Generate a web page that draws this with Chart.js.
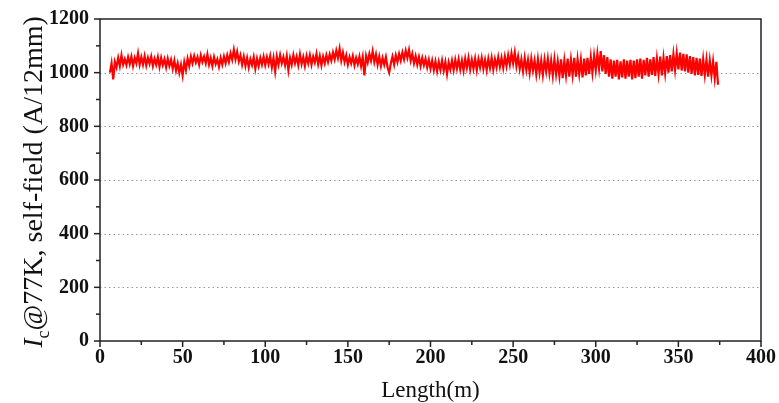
<!DOCTYPE html>
<html>
<head>
<meta charset="utf-8">
<script src="https://cdn.jsdelivr.net/npm/chart.js@4"></script>
<style>
  html, body { margin: 0; padding: 0; background: #fff; }
  #wrap { width: 779px; height: 403px; }
</style>
</head>
<body>
<div id="wrap"><canvas id="myChart" width="779" height="403"></canvas></div>
<script>
// Ic along the tape, one reading per metre starting at 6 m
const lengthStart = 6
const icValues = [
  1000, 1035, 975, 1040, 1020, 1055, 1025, 1065, 1030, 1050,
  1028, 1058, 1032, 1060, 1025, 1055, 1035, 1072, 1030, 1058,
  1030, 1062, 1027, 1055, 1033, 1060, 1025, 1052, 1030, 1058,
  1022, 1055, 1028, 1050, 1020, 1052, 1025, 1048, 1015, 1045,
  1008, 1035, 1000, 1030, 990, 1040, 1010, 1052, 1025, 1060,
  1035, 1062, 1038, 1058, 1030, 1065, 1040, 1060, 1035, 1068,
  1030, 1055, 1025, 1058, 1032, 1050, 1022, 1055, 1030, 1060,
  1035, 1065, 1040, 1072, 1048, 1085, 1050, 1078, 1042, 1065,
  1030, 1060, 1025, 1055, 1020, 1050, 1028, 1058, 1015, 1052,
  1025, 1055, 1030, 1060, 1028, 1058, 1032, 1062, 1020, 1055,
  1005, 1060, 1030, 1065, 1035, 1058, 1028, 1062, 1010, 1055,
  1030, 1065, 1035, 1060, 1028, 1068, 1032, 1058, 1025, 1062,
  1035, 1065, 1030, 1060, 1038, 1070, 1032, 1062, 1028, 1060,
  1035, 1065, 1040, 1068, 1045, 1075, 1050, 1082, 1055, 1090,
  1045, 1075, 1040, 1065, 1030, 1058, 1035, 1062, 1028, 1055,
  1032, 1060, 1025, 1058, 990, 1062, 1038, 1070, 1045, 1080,
  1040, 1068, 1030, 1060, 1025, 1055, 1030, 1058, 1020, 1000,
  1035, 1060, 1030, 1065, 1040, 1070, 1045, 1075, 1050, 1082,
  1055, 1085, 1045, 1070, 1035, 1062, 1030, 1058, 1025, 1055,
  1028, 1052, 1020, 1048, 1015, 1045, 1010, 1042, 1005, 1040,
  1010, 1045, 1008, 1040, 995, 1038, 1012, 1045, 1010, 1048,
  1015, 1050, 1012, 1045, 1008, 1052, 1018, 1055, 1012, 1048,
  1015, 1052, 1010, 1050, 1020, 1055, 1015, 1048, 1010, 1052,
  1018, 1055, 1012, 1050, 1020, 1058, 1022, 1055, 1018, 1060,
  1025, 1065, 1030, 1072, 1035, 1075, 1025, 1060, 1015, 1050,
  1005, 1055, 1010, 1048, 1000, 1052, 1008, 1045, 995, 1050,
  1000, 1045, 992, 1048, 1005, 1052, 998, 1045, 990, 1050,
  995, 1042, 988, 1050, 980, 1045, 990, 1052, 985, 1048,
  992, 1055, 985, 1050, 995, 1048, 982, 1052, 990, 1055,
  995, 1058, 1000, 1062, 1010, 1070, 1015, 1080, 1005, 1065,
  995, 1058, 985, 1050, 978, 1045, 985, 1048, 975, 1042,
  982, 1050, 978, 1045, 985, 1048, 975, 1045, 980, 1050,
  985, 1052, 978, 1048, 990, 1055, 985, 1050, 992, 1058,
  988, 1052, 995, 1060, 990, 1055, 998, 1062, 1000, 1065,
  1005, 1068, 1010, 1072, 1012, 1075, 1008, 1070, 1005, 1068,
  1000, 1062, 995, 1058, 990, 1055, 992, 1052, 988, 1050,
  992, 1048, 985, 1045, 990, 1042, 980, 1040, 955
]

const xTicks = [0, 50, 100, 150, 200, 250, 300, 350, 400]
const yTicks = [0, 200, 400, 600, 800, 1000, 1200]
const gridValues = [200, 400, 600, 800, 1000]

const points = icValues.map((v, i) => ({ x: lengthStart + i, y: v }))

const serif = '"Liberation Serif", "Times New Roman", serif'
const tickFont = 'bold 20px ' + serif

// frame, ticks, dotted grid and axis titles drawn by hand
const framePlugin = {
  id: 'frame',
  beforeDatasetsDraw(chart) {
    const { ctx, chartArea: a, scales: { y } } = chart
    ctx.save()
    ctx.strokeStyle = '#8f94b8'
    ctx.lineWidth = 1
    ctx.setLineDash([1.5, 3])
    gridValues.forEach(v => {
      const py = Math.round(y.getPixelForValue(v)) + 0.5
      ctx.beginPath()
      ctx.moveTo(a.left, py)
      ctx.lineTo(a.right, py)
      ctx.stroke()
    })
    ctx.restore()
  },
  afterDraw(chart) {
    const { ctx, chartArea: a, scales: { x, y } } = chart
    ctx.save()
    ctx.strokeStyle = '#222'
    ctx.lineWidth = 1.5
    ctx.strokeRect(a.left, a.top, a.right - a.left, a.bottom - a.top)

    for (let v = 0; v <= 400; v += 25) {
      const px = x.getPixelForValue(v)
      const len = v % 50 === 0 ? 6 : 4
      ctx.beginPath()
      ctx.moveTo(px, a.bottom)
      ctx.lineTo(px, a.bottom + len)
      ctx.stroke()
    }
    for (let v = 0; v <= 1200; v += 100) {
      const py = y.getPixelForValue(v)
      const len = v % 200 === 0 ? 6 : 4
      ctx.beginPath()
      ctx.moveTo(a.left, py)
      ctx.lineTo(a.left - len, py)
      ctx.stroke()
    }

    ctx.fillStyle = '#111'
    ctx.font = tickFont
    ctx.textAlign = 'center'
    ctx.textBaseline = 'top'
    xTicks.forEach(v => ctx.fillText(String(v), x.getPixelForValue(v), a.bottom + 7))
    ctx.textAlign = 'right'
    ctx.textBaseline = 'middle'
    yTicks.forEach(v => ctx.fillText(String(v), a.left - 11, y.getPixelForValue(v)))

    ctx.font = '23px ' + serif
    ctx.textAlign = 'center'
    ctx.textBaseline = 'alphabetic'
    ctx.fillText('Length(m)', (a.left + a.right) / 2, 397)

    // y title: italic I, subscript c, then the rest
    const big = '28px ' + serif
    const ital = 'italic 28px ' + serif
    const sub = '18px ' + serif
    const rest = '@77K, self-field (A/12mm)'
    ctx.font = ital
    const wI = ctx.measureText('I').width
    ctx.font = sub
    const wc = ctx.measureText('c').width
    ctx.font = big
    const wr = ctx.measureText(rest).width
    const total = wI + wc + wr
    ctx.translate(42, (a.top + a.bottom) / 2 + 2)
    ctx.rotate(-Math.PI / 2)
    ctx.textAlign = 'left'
    let cx = -total / 2
    ctx.font = ital
    ctx.fillText('I', cx, 0)
    cx += wI
    ctx.font = sub
    ctx.fillText('c', cx, 7)
    cx += wc
    ctx.font = big
    ctx.fillText(rest, cx, 0)
    ctx.restore()
  }
}

new Chart(document.getElementById('myChart'), {
  type: 'line',
  data: {
    datasets: [{
      data: points,
      borderColor: '#ff0000',
      borderWidth: 2.2,
      pointRadius: 0,
      tension: 0,
      fill: false
    }]
  },
  options: {
    responsive: false,
    animation: false,
    events: [],
    layout: { padding: { left: 0, right: 18, top: 19, bottom: 0 } },
    plugins: { legend: { display: false }, tooltip: { enabled: false } },
    scales: {
      x: {
        type: 'linear', min: 0, max: 400,
        grid: { display: false }, border: { display: false },
        ticks: { display: false },
        afterFit: s => { s.height = 62 }
      },
      y: {
        min: 0, max: 1200,
        grid: { display: false }, border: { display: false },
        ticks: { display: false },
        afterFit: s => { s.width = 100 }
      }
    }
  },
  plugins: [framePlugin]
})
</script>
</body>
</html>
